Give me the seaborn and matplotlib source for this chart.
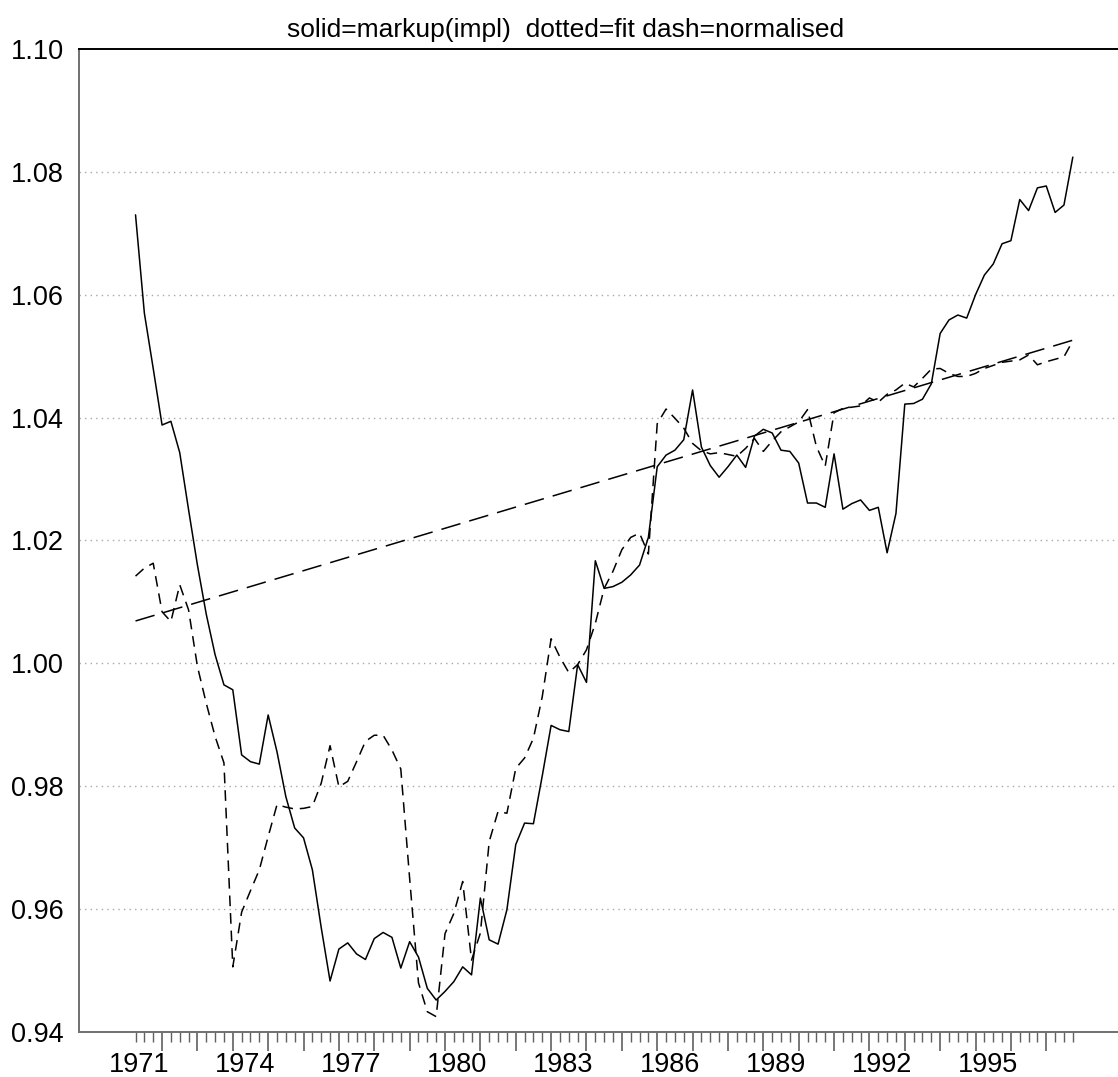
import numpy as np
import pandas as pd
import matplotlib
matplotlib.use("Agg")
import matplotlib.pyplot as plt
import matplotlib.transforms as mtransforms
import seaborn as sns

# Quarterly series, 1971Q1 - 1997Q3
start_year = 1971
markup = [
    1.0730, 1.0570, 1.0480, 1.0388, 1.0394, 1.0343, 1.0250, 1.0160, 1.0080, 1.0014,
    0.9965, 0.9957, 0.9851, 0.9840, 0.9836, 0.9916, 0.9856, 0.9783, 0.9732, 0.9716,
    0.9664, 0.9570, 0.9483, 0.9535, 0.9545, 0.9527, 0.9518, 0.9552, 0.9562, 0.9554,
    0.9504, 0.9547, 0.9522, 0.9471, 0.9452, 0.9466, 0.9482, 0.9506, 0.9493, 0.9618,
    0.9550, 0.9543, 0.9599, 0.9705, 0.9740, 0.9739, 0.9817, 0.9899, 0.9892, 0.9889,
    0.9998, 0.9969, 1.0167, 1.0122, 1.0125, 1.0132, 1.0144, 1.0160, 1.0205, 1.0320,
    1.0339, 1.0347, 1.0364, 1.0445, 1.0352, 1.0322, 1.0303, 1.0320, 1.0339, 1.0319,
    1.0370, 1.0381, 1.0375, 1.0347, 1.0345, 1.0326, 1.0261, 1.0261, 1.0254, 1.0341,
    1.0251, 1.0260, 1.0266, 1.0249, 1.0254, 1.0180, 1.0244, 1.0422, 1.0423, 1.0430,
    1.0455, 1.0537, 1.0559, 1.0567, 1.0562, 1.0600, 1.0632, 1.0650, 1.0683, 1.0688,
    1.0755, 1.0737, 1.0774, 1.0777, 1.0734, 1.0746, 1.0824,
]
fit = [
    1.0142, 1.0155, 1.0163, 1.0084, 1.0068, 1.0128, 1.0087, 0.9995, 0.9935, 0.9881,
    0.9838, 0.9506, 0.9595, 0.9630, 0.9664, 0.9718, 0.9770, 0.9766, 0.9763, 0.9764,
    0.9767, 0.9805, 0.9866, 0.9799, 0.9808, 0.9840, 0.9873, 0.9883, 0.9883, 0.9859,
    0.9828, 0.9650, 0.9480, 0.9433, 0.9425, 0.9560, 0.9593, 0.9645, 0.9517, 0.9561,
    0.9710, 0.9759, 0.9756, 0.9829, 0.9846, 0.9878, 0.9946, 1.0040, 1.0010, 0.9985,
    0.9998, 1.0022, 1.0065, 1.0122, 1.0150, 1.0185, 1.0205, 1.0212, 1.0178, 1.0390,
    1.0414, 1.0399, 1.0383, 1.0358, 1.0346, 1.0341, 1.0343, 1.0340, 1.0337, 1.0350,
    1.0366, 1.0345, 1.0362, 1.0377, 1.0385, 1.0393, 1.0413, 1.0353, 1.0321, 1.0408,
    1.0415, 1.0417, 1.0419, 1.0432, 1.0425, 1.0438, 1.0445, 1.0456, 1.0450, 1.0464,
    1.0479, 1.0480, 1.0472, 1.0467, 1.0467, 1.0472, 1.0480, 1.0485, 1.0490, 1.0492,
    1.0494, 1.0502, 1.0486, 1.0491, 1.0495, 1.0499, 1.0525,
]
# Normalised markup: straight trend between the first and last quarter
normalised_time = [1971.00, 1997.50]
normalised = [1.0069, 1.0526]

subtitle = "solid=markup(impl)  dotted=fit dash=normalised"
year_labels = [1971, 1974, 1977, 1980, 1983, 1986, 1989, 1992, 1995]
y_ticks = [0.94, 0.96, 0.98, 1.00, 1.02, 1.04, 1.06, 1.08, 1.10]

time = start_year + np.arange(len(markup)) / 4.0
df = pd.DataFrame({"time": time, "markup": markup, "fit": fit})
df_norm = pd.DataFrame({"time": normalised_time, "normalised": normalised})

sns.set_theme(style="white")
plt.rcParams["font.family"] = ["Liberation Sans", "DejaVu Sans"]
lab_size = 19.5
sub_size = 19

fig = plt.figure(figsize=(11.18, 10.77), dpi=100)
ax = fig.add_axes([0.0707, 0.0418, 0.9293, 0.9127])

sns.lineplot(data=df, x="time", y="markup", ax=ax, color="black", lw=1.1)
sns.lineplot(data=df, x="time", y="fit", ax=ax, color="black", lw=1.1,
             linestyle=(0, (7, 4.5)))
sns.lineplot(data=df_norm, x="time", y="normalised", ax=ax, color="black", lw=1.1,
             linestyle=(0, (13, 6)))

ax.set_xlim(1969.403, 1998.778)
ax.set_ylim(0.94, 1.10)
ax.set_xlabel("")
ax.set_ylabel("")

# y axis: labels only, dotted grid on inner values
ax.set_yticks(y_ticks)
ax.set_yticklabels([f"{v:.2f}" for v in y_ticks], fontsize=lab_size, color="black")
ax.tick_params(axis="y", length=0, pad=11)
for v in y_ticks[1:-1]:
    ax.axhline(v, color="#a8a8a8", lw=1.0, linestyle=(0, (1, 3)), zorder=0)

# x axis: quarterly minor ticks, long tick closing each year
ax.set_xticks([y + 0.75 for y in range(1971, 1997)])
ax.set_xticks(time, minor=True)
ax.set_xticklabels([])
ax.tick_params(axis="x", which="major", direction="out", length=14, width=1.2,
               color="#606060", bottom=True)
ax.tick_params(axis="x", which="minor", direction="out", length=7, width=1.0,
               color="#606060", bottom=True)
trans = mtransforms.blended_transform_factory(ax.transData, ax.transAxes)
for yr in year_labels:
    ax.text(yr + 0.1, -0.0205, str(yr), transform=trans, ha="center", va="top",
            fontsize=lab_size, color="black")

for side in ["left", "bottom"]:
    ax.spines[side].set_color("#707070")
    ax.spines[side].set_linewidth(1.4)
ax.spines["top"].set_color("black")
ax.spines["top"].set_linewidth(1.4)
ax.spines["right"].set_visible(False)

fig.text(0.506, 0.9725, subtitle, ha="center", va="center", fontsize=sub_size,
         color="black")

fig.savefig("out.png", dpi=100)
